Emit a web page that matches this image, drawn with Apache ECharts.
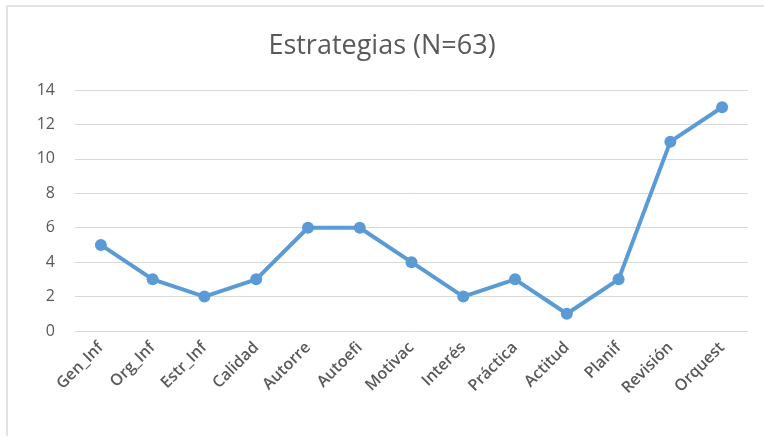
<!DOCTYPE html>
<html><head><meta charset="utf-8">
<script src="https://cdn.jsdelivr.net/npm/echarts@6/dist/echarts.min.js"></script>
<style>html,body{margin:0;padding:0;background:#fff}#c{width:764px;height:437px}</style>
</head><body><div id="c"></div>
<script>
const categories = ["Gen_Inf","Org_Inf","Estr_Inf","Calidad","Autorre","Autoefi","Motivac","Interés","Práctica","Actitud","Planif","Revisión","Orquest"];
const values = [5,3,2,3,6,6,4,2,3,1,3,11,13];
const yTicks = {min:0, max:14, interval:2};
const title = "Estrategias (N=63)";

const chart = echarts.init(document.getElementById('c'));
chart.setOption({
  animation:false,
  backgroundColor:'#fff',
  title:{text:title, left:'center', top:28, textStyle:{fontFamily:'Open Sans', fontWeight:'normal', fontSize:27, color:'#595959'}},
  graphic:[
    {type:'line', shape:{x1:7,y1:6,x2:764,y2:6}, style:{stroke:'#d9d9d9', lineWidth:1.5}},
    {type:'line', shape:{x1:7,y1:6,x2:7,y2:436}, style:{stroke:'#d9d9d9', lineWidth:1.5}}
  ],
  grid:{left:75, right:16, top:90, bottom:106, containLabel:false},
  xAxis:{type:'category', data:categories, boundaryGap:true,
    axisLine:{show:false}, axisTick:{show:false},
    axisLabel:{rotate:45, color:'#595959', fontFamily:'Open Sans', fontWeight:600, fontSize:16, margin:14, interval:0}},
  yAxis:{type:'value', min:yTicks.min, max:yTicks.max, interval:yTicks.interval,
    axisLine:{show:false}, axisTick:{show:false},
    splitLine:{lineStyle:{color:'#d9d9d9', width:1}},
    axisLabel:{color:'#595959', fontFamily:'Open Sans', fontSize:16, margin:20}},
  series:[{type:'line', data:values, symbol:'circle', symbolSize:12,
    lineStyle:{color:'#5b9bd5', width:4}, itemStyle:{color:'#5b9bd5'}}]
});
</script></body></html>
